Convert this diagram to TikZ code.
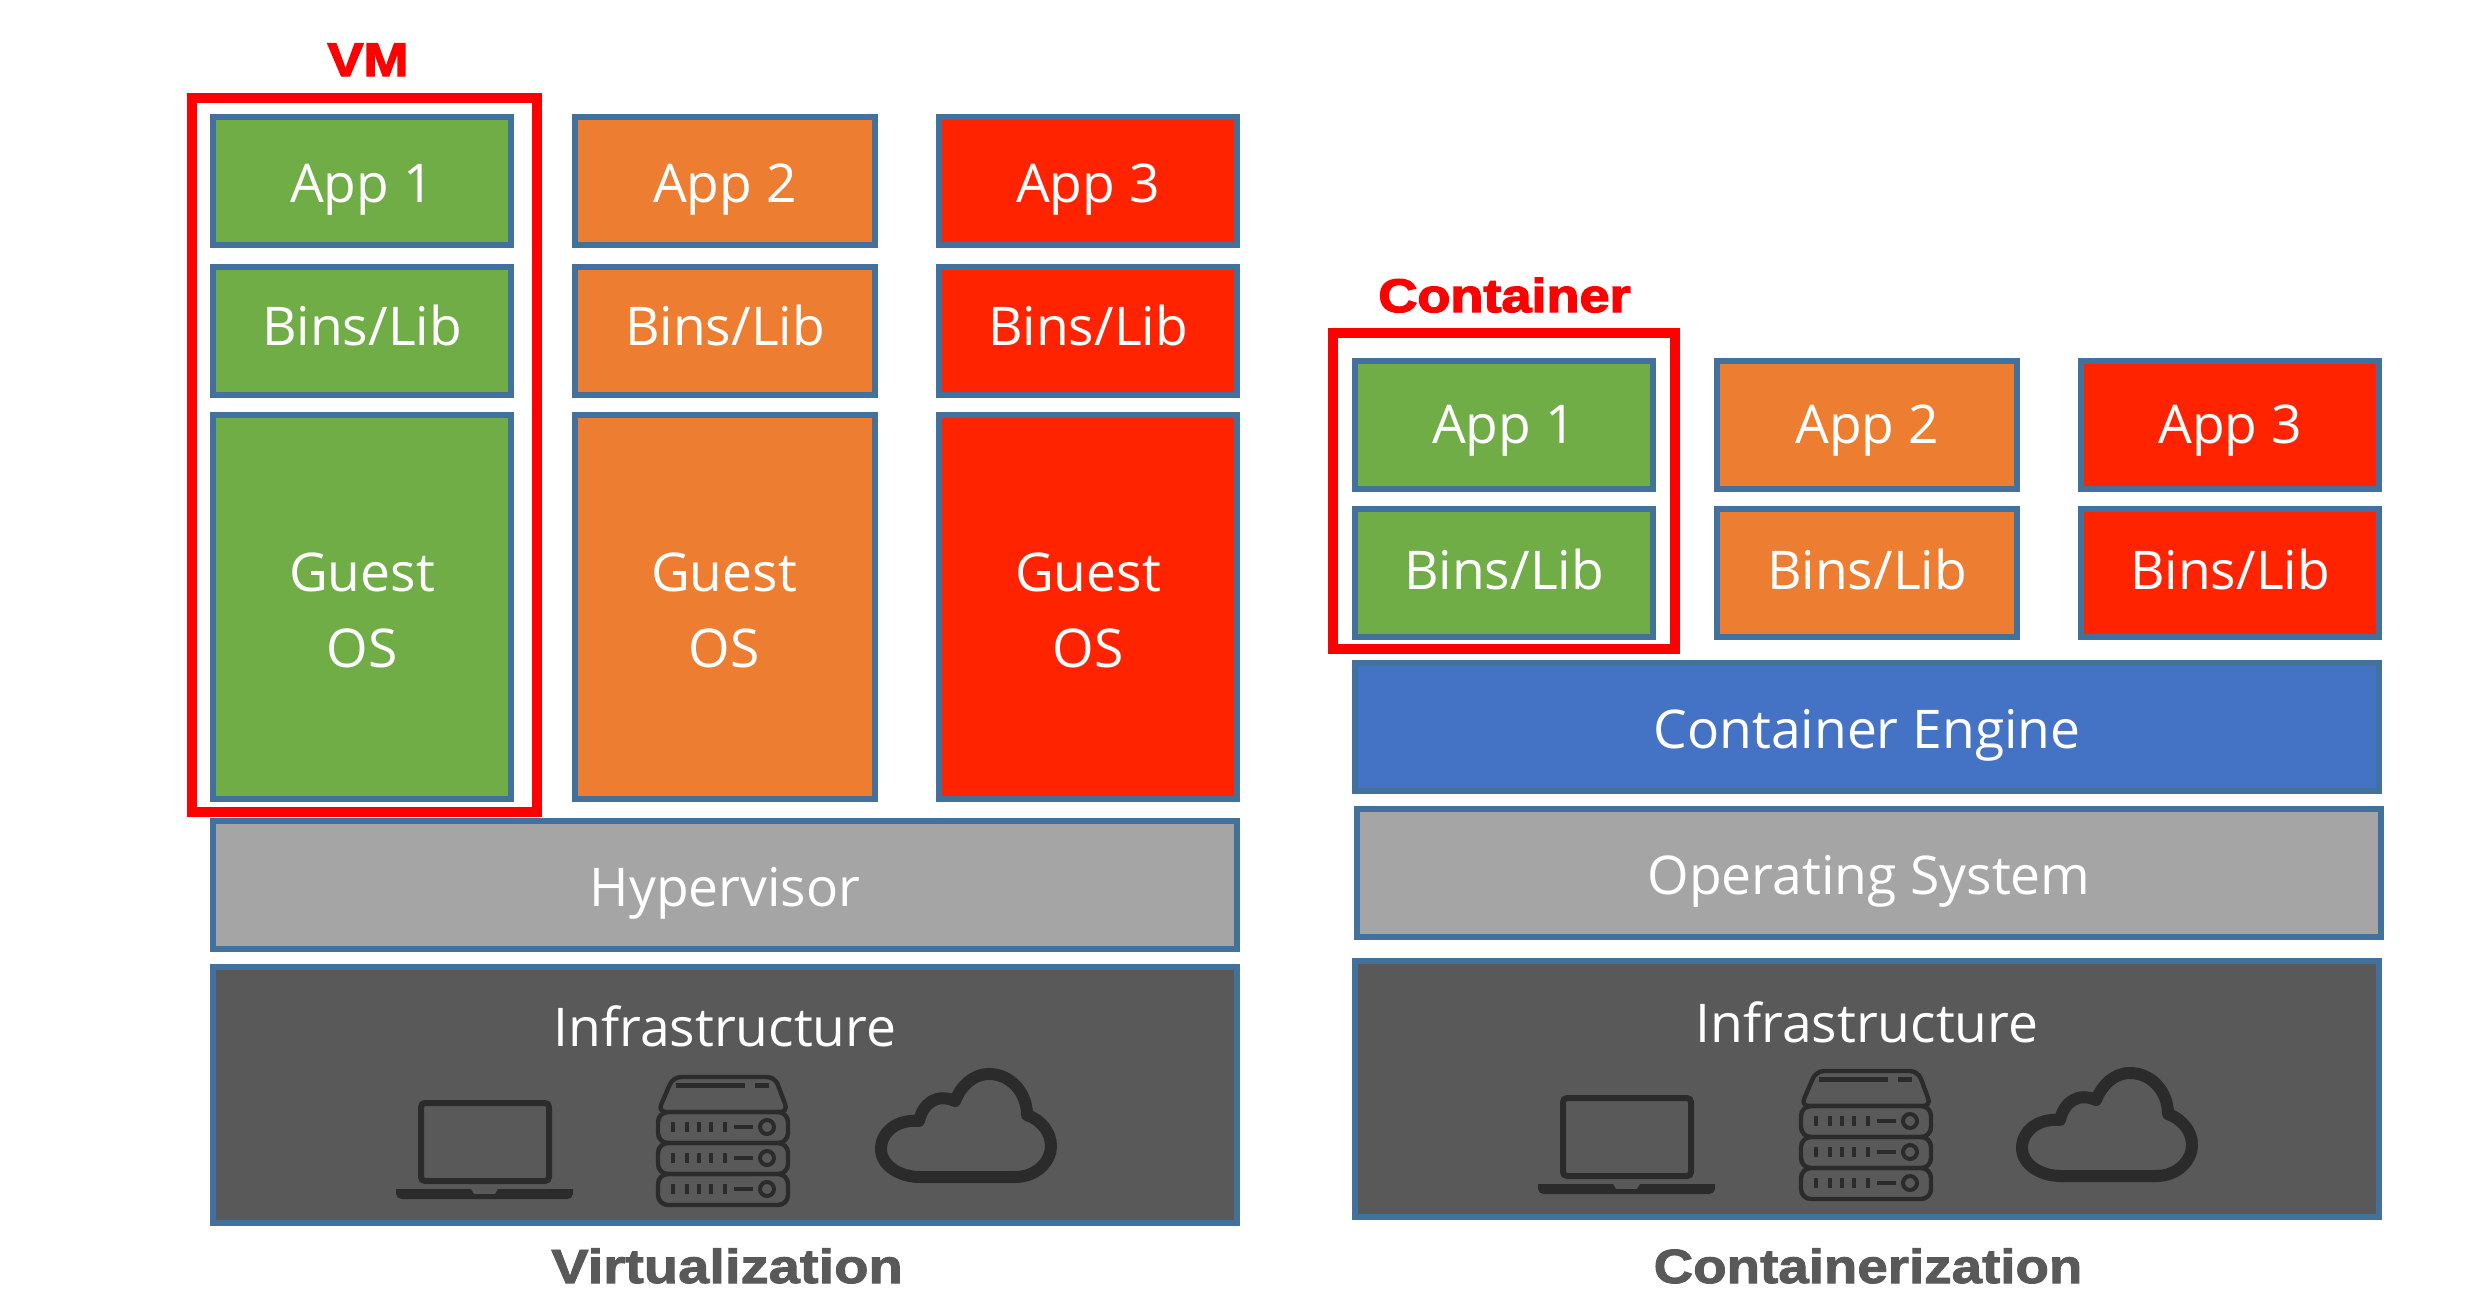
\documentclass[tikz,border=0pt]{standalone}
\usepackage{fontspec}
\setmainfont{Open Sans}
\newfontfamily\heavyfont[UprightFont=* Bold,FakeBold=3,FakeStretch=1.15]{Liberation Sans}
\newfontfamily\capfont[UprightFont=* Bold,FakeBold=2,FakeStretch=1.17]{Liberation Sans}
\newfontfamily\capfontb[UprightFont=* Bold,FakeBold=2,FakeStretch=1.14]{Liberation Sans}
\usetikzlibrary{positioning}
\definecolor{boxline}{HTML}{41719C}
\definecolor{appgreen}{HTML}{70AD47}
\definecolor{apporange}{HTML}{ED7D31}
\definecolor{appred}{HTML}{FF2300}
\definecolor{engblue}{HTML}{4472C4}
\definecolor{midgrey}{HTML}{A5A5A5}
\definecolor{darkgrey}{HTML}{595959}
\definecolor{icondark}{HTML}{2B2B2B}
\tikzset{
	stackbox/.style={draw=boxline, line width=3pt, text=white, font=\fontsize{26.7}{38}\selectfont, align=center, minimum width=149pt, minimum height=64pt, inner sep=0pt},
	midbox/.style={stackbox, minimum width=150pt},
	osbox/.style={stackbox, minimum height=192pt},
	widebox/.style={stackbox, minimum width=512pt},
	infrabox/.style={widebox, minimum height=128pt},
	base/.style={text height=#1*1pt, text depth=0pt},
	bodytext/.style={text=white, font=\fontsize{26.7}{38}\selectfont, inner sep=0pt, anchor=base},
	ostext/.style={bodytext, anchor=center, align=center, yshift=-1.6pt},
	redframe/.style={draw=red, line width=5pt, inner sep=0pt},
	redtext/.style={text=red, font=\heavyfont\fontsize{23.5}{28}\selectfont, inner sep=0pt, anchor=base},
	captext/.style={text=darkgrey, font=\capfont\fontsize{24}{28}\selectfont, inner sep=0pt, anchor=base},
	laptop/.pic={
		\draw[icondark, line width=3pt, rounded corners=2pt] (3,3) rectangle (131,81);
		\fill[icondark] (-22,89) -- (53,89) -- (56,94) -- (77,94) -- (80,89) -- (155,89) -- (155,94) .. controls (155,97) and (152,99) .. (149,99) -- (-16,99) .. controls (-19,99) and (-22,97) .. (-22,94) -- cycle;
	},
	server/.pic={
		\draw[icondark, line width=2.2pt, rounded corners=4pt] (3,39) -- (18,4) -- (120,4) -- (133,39) -- cycle;
		\draw[icondark, line width=2.2pt, rounded corners=5pt] (3,39) rectangle (133,70);
		\draw[icondark, line width=2.2pt, rounded corners=5pt] (3,70) rectangle (133,101);
		\draw[icondark, line width=2.2pt, rounded corners=5pt] (3,101) rectangle (133,132);
		\draw[icondark, line width=2.5pt] (21,12) -- (90,12);
		\draw[icondark, line width=2.5pt] (100,12) -- (114,12);
		\foreach \yy in {54,85,116} {
			\foreach \xx in {18,32,44,56,70} {
				\draw[icondark, line width=1.8pt] (\xx,\yy-5) -- (\xx,\yy+5);
			}
			\draw[icondark, line width=2.2pt] (79,\yy) -- (98,\yy);
			\draw[icondark, line width=2pt] (112,\yy) circle (3.5pt);
		}
	},
	cloud/.pic={
		\draw[icondark, line width=6pt, line join=round] (45,109) -- (140,109) .. controls (162,109) and (176,93) .. (176,78) .. controls (176,64) and (166,52) .. (152,47) .. controls (152,25) and (136,6) .. (114,6) .. controls (98,6) and (86,18) .. (80,33) .. controls (62,25) and (48,35) .. (44,53) .. controls (22,51) and (6,64) .. (6,81) .. controls (6,97) and (24,109) .. (45,109) -- cycle;
	}
}
\begin{document}
\begin{tikzpicture}[x=0.5pt,y=-0.5pt]
	\useasboundingbox (0,0) rectangle (2468,1312);
	% virtualization stack
	\node (vmapp1) [stackbox, fill=appgreen, base=21, anchor=north west] at (210,114) {App 1};
	\node (vmapp2) [midbox, fill=apporange, base=21, right=29pt of vmapp1] {App 2};
	\node (vmapp3) [stackbox, fill=appred, base=21, right=29pt of vmapp2] {App 3};
	\node (vmbin1) [stackbox, fill=appgreen, base=14, below=8pt of vmapp1] {Bins/Lib};
	\node (vmbin2) [midbox, fill=apporange, base=14, below=8pt of vmapp2] {Bins/Lib};
	\node (vmbin3) [stackbox, fill=appred, base=14, below=8pt of vmapp3] {Bins/Lib};
	\node (vmos1) [osbox, fill=appgreen, below=7pt of vmbin1] {};
	\node (vmos2) [osbox, minimum width=150pt, fill=apporange, below=7pt of vmbin2] {};
	\node (vmos3) [osbox, fill=appred, below=7pt of vmbin3] {};
	\node (vmos1txt) [ostext] at (vmos1) {Guest\\OS};
	\node (vmos2txt) [ostext, xshift=-0.5pt] at (vmos2) {Guest\\OS};
	\node (vmos3txt) [ostext] at (vmos3) {Guest\\OS};
	\node (hyper) [widebox, fill=midgrey, base=21, below=8pt of vmos1.south west, anchor=north west] {Hypervisor};
	\node (vminfra) [infrabox, fill=darkgrey, below=6pt of hyper.south west, anchor=north west] {};
	\node (vminfratxt) [bodytext] at (725,1046) {Infrastructure};
	\pic at (418,1100) {laptop};
	\pic at (655,1073) {server};
	\pic at (875,1068) {cloud};
	\node (vmframe) [redframe, minimum width=172.5pt, minimum height=357pt] at (364.5,455) {};
	\node (vmtxt) [redtext] at (368,76) {VM};
	\node (vmcap) [captext] at (727,1283) {Virtualization};
	% container stack
	\node (ctapp1) [stackbox, fill=appgreen, base=18, anchor=north west] at (1352,358) {App 1};
	\node (ctapp2) [midbox, fill=apporange, base=18, right=29pt of ctapp1] {App 2};
	\node (ctapp3) [stackbox, fill=appred, base=18, right=29pt of ctapp2] {App 3};
	\node (ctbin1) [stackbox, fill=appgreen, base=16, below=7pt of ctapp1] {Bins/Lib};
	\node (ctbin2) [midbox, fill=apporange, base=16, below=7pt of ctapp2] {Bins/Lib};
	\node (ctbin3) [stackbox, fill=appred, base=16, below=7pt of ctapp3] {Bins/Lib};
	\node (engine) [widebox, fill=engblue, base=21, below=10pt of ctbin1.south west, anchor=north west] {Container Engine};
	\node (opsys) [widebox, fill=midgrey, base=21, below=6pt of engine.south west, anchor=north west, xshift=1pt] {Operating System};
	\node (ctinfra) [infrabox, fill=darkgrey, below=9pt of opsys.south west, anchor=north west, xshift=-1pt] {};
	\node (ctinfratxt) [bodytext] at (1867,1042) {Infrastructure};
	\pic at (1560,1095) {laptop};
	\pic at (1798,1067) {server};
	\pic at (2016,1067) {cloud};
	\node (ctframe) [redframe, minimum width=171pt, minimum height=158pt] at (1504,491) {};
	\node (cttxt) [redtext] at (1504.5,312) {Container};
	\node (ctcap) [captext, font=\capfontb\fontsize{24}{28}\selectfont] at (1868,1283) {Containerization};
\end{tikzpicture}
\end{document}
